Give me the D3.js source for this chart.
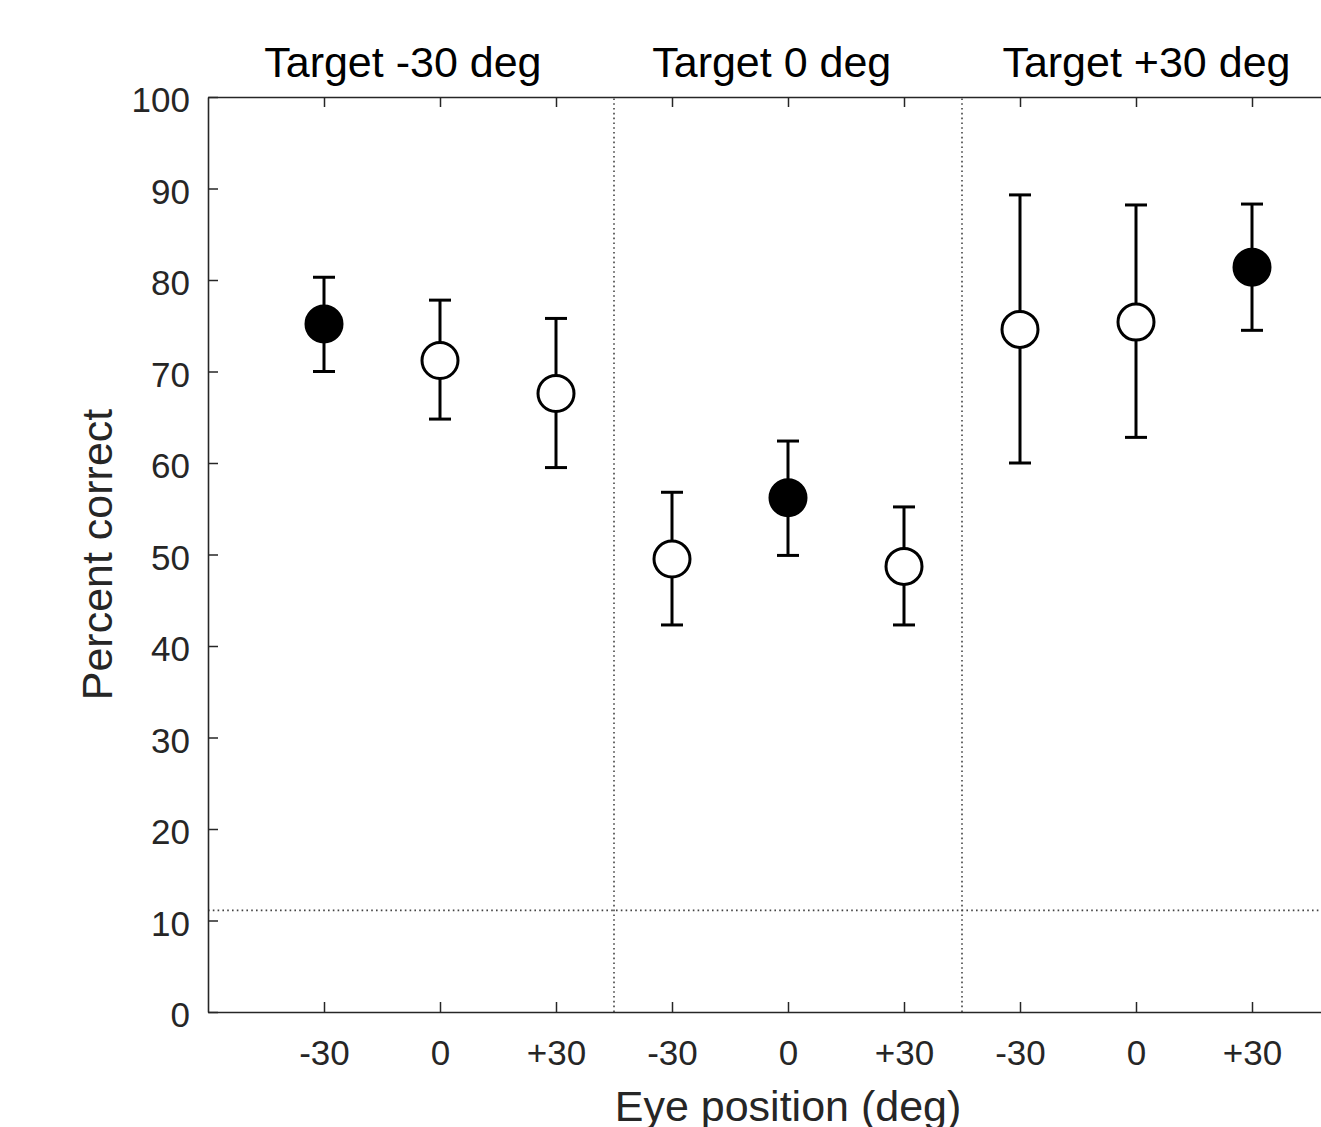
<!DOCTYPE html>
<html>
<head>
<meta charset="utf-8">
<script src="https://cdn.jsdelivr.net/npm/d3@7"></script>
<style>
  body { margin: 0; background: #fff; }
  svg { display: block; }
  text { font-family: "Liberation Sans", Arial, sans-serif; }
</style>
</head>
<body>
<svg id="chart" width="1321" height="1127"></svg>
<script>
// data
var panels = ["Target -30 deg", "Target 0 deg", "Target +30 deg"];
var panelTitleX = [1.68, 4.86, 8.09];
var eyeLabels = ["-30", "0", "+30"];
var meanCorrect = [75.2, 71.2, 67.6, 49.5, 56.2, 48.7, 74.6, 75.4, 81.4];
var upperErr   = [80.3, 77.8, 75.8, 56.8, 62.4, 55.2, 89.3, 88.2, 88.3];
var lowerErr   = [70.0, 64.8, 59.5, 42.3, 49.9, 42.3, 60.0, 62.8, 74.5];
var congruent  = [true, false, false, false, true, false, false, false, true];
var chanceLevel = 100 / 9;
var yTicks = [0, 10, 20, 30, 40, 50, 60, 70, 80, 90, 100];

var svg = d3.select("#chart");
var plotLeft = 208, plotTop = 97, plotBottom = 1012;

var x = d3.scaleLinear().domain([0, 10]).range([plotLeft, 1368]);
var y = d3.scaleLinear().domain([0, 100]).range([plotBottom, plotTop]);

var pts = meanCorrect.map(function(d, i) {
  return {pos: i + 1, m: d, hi: upperErr[i], lo: lowerErr[i], filled: congruent[i]};
});

var axisCol = "#262626";

// separators between panels
svg.selectAll("line.sep")
  .data([3.5, 6.5])
  .enter().append("line")
  .attr("class", "sep")
  .attr("x1", function(d) { return x(d); })
  .attr("x2", function(d) { return x(d); })
  .attr("y1", y(0)).attr("y2", y(100))
  .attr("stroke", "#444").attr("stroke-width", 1.6)
  .attr("stroke-dasharray", "1.6,3.2");

// chance level
svg.append("line")
  .attr("x1", x(0)).attr("x2", x(10))
  .attr("y1", y(chanceLevel)).attr("y2", y(chanceLevel))
  .attr("stroke", "#444").attr("stroke-width", 1.6)
  .attr("stroke-dasharray", "1.6,3.2");

// axes
var xAxis = d3.axisBottom(x)
  .tickValues(d3.range(1, 10))
  .tickSizeInner(-10).tickSizeOuter(0).tickPadding(28)
  .tickFormat(function(d) { return eyeLabels[(d - 1) % 3]; });
var gx = svg.append("g").attr("transform", "translate(0," + plotBottom + ")").call(xAxis);

var xTop = d3.axisTop(x)
  .tickValues(d3.range(1, 10))
  .tickSizeInner(-10).tickSizeOuter(0)
  .tickFormat("");
var gxt = svg.append("g").attr("transform", "translate(0," + plotTop + ")").call(xTop);

var yAxis = d3.axisLeft(y)
  .tickValues(yTicks)
  .tickSizeInner(-10).tickSizeOuter(0).tickPadding(18);
var gy = svg.append("g").attr("transform", "translate(" + plotLeft + ",0)").call(yAxis);

[gx, gxt, gy].forEach(function(g) {
  g.select(".domain").attr("stroke", axisCol).attr("stroke-width", 1.6);
  g.selectAll(".tick line").attr("stroke", axisCol).attr("stroke-width", 1.5);
  g.selectAll(".tick text").attr("fill", axisCol)
    .style("font-size", "35px").style("font-family", "Liberation Sans, Arial, sans-serif");
});
gy.selectAll(".tick text").attr("dy", "0.42em");

// error bars
var bars = svg.append("g").selectAll("g.eb").data(pts).enter().append("g");
bars.append("line")
  .attr("x1", function(d) { return x(d.pos); })
  .attr("x2", function(d) { return x(d.pos); })
  .attr("y1", function(d) { return y(d.lo); })
  .attr("y2", function(d) { return y(d.hi); })
  .attr("stroke", "#000").attr("stroke-width", 3);
bars.selectAll("line.cap")
  .data(function(d) { return [{p: d.pos, v: d.hi}, {p: d.pos, v: d.lo}]; })
  .enter().append("line")
  .attr("x1", function(d) { return x(d.p) - 11; })
  .attr("x2", function(d) { return x(d.p) + 11; })
  .attr("y1", function(d) { return y(d.v); })
  .attr("y2", function(d) { return y(d.v); })
  .attr("stroke", "#000").attr("stroke-width", 3);

// markers
svg.append("g").selectAll("circle")
  .data(pts).enter().append("circle")
  .attr("cx", function(d) { return x(d.pos); })
  .attr("cy", function(d) { return y(d.m); })
  .attr("r", 18)
  .attr("fill", function(d) { return d.filled ? "#000" : "#fff"; })
  .attr("stroke", "#000").attr("stroke-width", 3);

// panel titles
svg.selectAll("text.title")
  .data(panels).enter().append("text")
  .attr("class", "title")
  .attr("x", function(d, i) { return x(panelTitleX[i]); })
  .attr("y", 77)
  .attr("text-anchor", "middle")
  .attr("fill", "#000")
  .style("font-size", "43px")
  .text(function(d) { return d; });

// axis labels
svg.append("text")
  .attr("x", x(5)).attr("y", 1121)
  .attr("text-anchor", "middle")
  .attr("fill", axisCol)
  .style("font-size", "43px")
  .text("Eye position (deg)");

svg.append("text")
  .attr("transform", "translate(112," + ((plotTop + plotBottom) / 2) + ") rotate(-90)")
  .attr("text-anchor", "middle")
  .attr("fill", axisCol)
  .style("font-size", "43px")
  .text("Percent correct");
</script>
</body>
</html>
